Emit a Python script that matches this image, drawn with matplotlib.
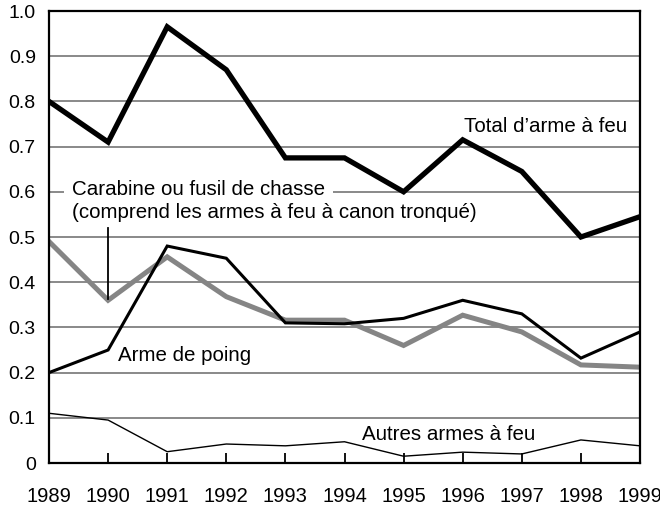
import matplotlib
matplotlib.use("Agg")
import matplotlib.pyplot as plt

years = [1989, 1990, 1991, 1992, 1993, 1994, 1995, 1996, 1997, 1998, 1999]
total = [0.80, 0.71, 0.965, 0.87, 0.675, 0.675, 0.60, 0.715, 0.645, 0.50, 0.545]
handgun = [0.20, 0.25, 0.48, 0.453, 0.31, 0.308, 0.32, 0.36, 0.33, 0.232, 0.29]
rifle = [0.49, 0.36, 0.456, 0.368, 0.316, 0.316, 0.26, 0.327, 0.29, 0.217, 0.212]
other = [0.11, 0.095, 0.025, 0.042, 0.038, 0.047, 0.015, 0.024, 0.02, 0.051, 0.038]
yticks = [0, 0.1, 0.2, 0.3, 0.4, 0.5, 0.6, 0.7, 0.8, 0.9, 1.0]
ytick_labels = ["0", "0.1", "0.2", "0.3", "0.4", "0.5", "0.6", "0.7", "0.8", "0.9", "1.0"]

plt.rcParams['font.family'] = ['Liberation Sans', 'DejaVu Sans']

fig = plt.figure(figsize=(6.6, 5.05), dpi=100)
ax = fig.add_axes([49/660, 1 - 463/505, (640-49)/660, (463-11)/505])

for y in yticks[1:-1]:
    ax.axhline(y, color='#808080', lw=1.3, zorder=1)

ax.plot(years, other, color='black', lw=1.0, zorder=3, solid_joinstyle='miter')
ax.plot(years, rifle, color='#858585', lw=3.6, zorder=4, solid_joinstyle='miter')
ax.plot(years, handgun, color='black', lw=2.2, zorder=5, solid_joinstyle='miter')
ax.plot(years, total, color='black', lw=3.8, zorder=6, solid_joinstyle='miter')

ax.set_xlim(1989, 1999)
ax.set_ylim(0, 1.0)
ax.set_xticks(years)
ax.set_xticklabels([str(y) for y in years], fontsize=14.5)
ax.set_yticks(yticks)
ax.set_yticklabels(ytick_labels, fontsize=14)
ax.tick_params(axis='x', direction='in', length=7, width=1.3, pad=17)
ax.tick_params(axis='y', length=0, pad=9.5)
for s in ax.spines.values():
    s.set_linewidth(1.6)
    s.set_zorder(10)

# leader line for rifle label
ax.plot([1990, 1990], [0.362, 0.52], color='black', lw=1.3, zorder=7)
ax.text(1989.39, 0.593, "Carabine ou fusil de chasse",
        fontsize=14.8, ha='left', va='baseline', zorder=2,
        bbox=dict(facecolor='white', edgecolor='none', pad=6))
ax.text(1989.39, 0.542, "(comprend les armes à feu à canon tronqué)",
        fontsize=14.8, ha='left', va='baseline', zorder=2)
ax.text(1996.03, 0.732, "Total d\u2019arme à feu", fontsize=14.8, ha='left', va='baseline', zorder=8)
ax.text(1990.17, 0.226, "Arme de poing", fontsize=14.8, ha='left', va='baseline', zorder=8)
ax.text(1994.3, 0.051, "Autres armes à feu", fontsize=14.8, ha='left', va='baseline', zorder=8)

fig.savefig("out.png", dpi=100)
